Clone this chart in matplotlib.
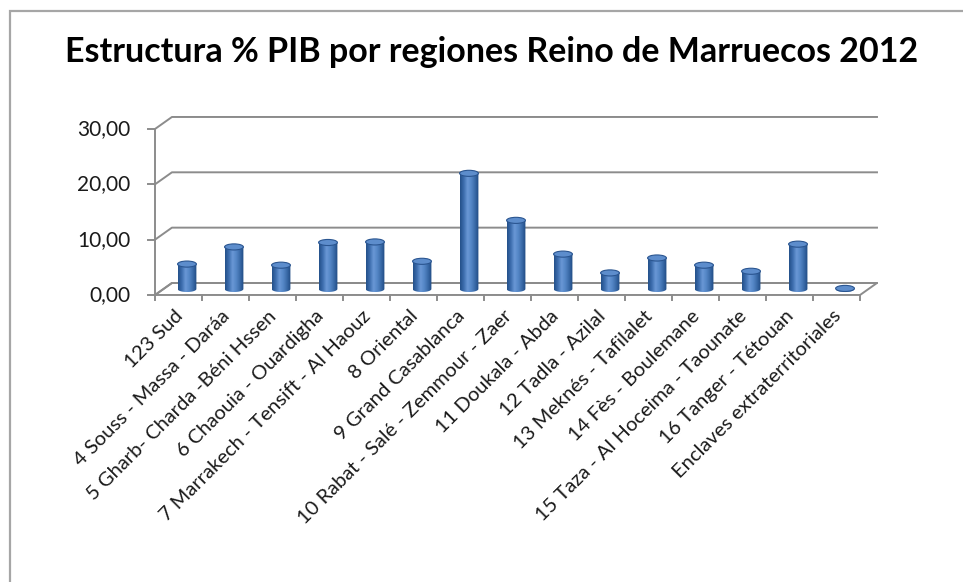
import numpy as np
import matplotlib
matplotlib.use("Agg")
import matplotlib.pyplot as plt
from matplotlib.patches import Ellipse, PathPatch, Rectangle, Polygon
from matplotlib.path import Path
from matplotlib.colors import LinearSegmentedColormap

plt.rcParams['font.family'] = ['Lato', 'DejaVu Sans']

# --- DATA ---
regions = [
    "123 Sud",
    "4 Souss - Massa - Daráa",
    "5 Gharb- Charda -Béni Hssen",
    "6 Chaouia - Ouardigha",
    "7 Marrakech - Tensift - Al Haouz",
    "8 Oriental",
    "9 Grand Casablanca",
    "10 Rabat - Salé - Zemmour - Zaer",
    "11 Doukala - Abda",
    "12 Tadla - Azilal",
    "13 Meknés - Tafilalet",
    "14 Fès - Boulemane",
    "15 Taza - Al Hoceima - Taounate",
    "16 Tanger - Tétouan",
    "Enclaves extraterritoriales",
]
pib_pct = [4.5, 7.6, 4.3, 8.4, 8.5, 5.0, 20.9, 12.4, 6.3, 2.9, 5.6, 4.3, 3.2, 8.1, 0.1]
y_ticks = [0, 10, 20, 30]
y_labels = ["0,00", "10,00", "20,00", "30,00"]
title = "Estructura % PIB por regiones Reino de Marruecos 2012"

# --- 3D-look geometry (data units) ---
n = len(regions)
dx, dy = 0.36, 2.17      # depth offset of back wall
bar_w = 0.40
ell_h = 1.1
grid_col = '#8c8c8c'

fig = plt.figure(figsize=(9.63, 5.82), dpi=100)
ax = fig.add_axes([0, 0, 1, 1])
ax.set_xlim(-3.298, 17.19)
ax.set_ylim(-51.87, 53.31)
ax.axis('off')

# outer chart frame
ax.add_patch(Rectangle((0.0104, -0.05), 1.2, 1.031, transform=ax.transAxes,
                       fill=False, edgecolor='#a6a6a6', linewidth=1.6, clip_on=False))

# floor
ax.add_patch(Polygon([(0, 0), (n, 0), (n + dx, dy), (dx, dy)], closed=True,
                     facecolor='white', edgecolor=grid_col, linewidth=1.4, zorder=1))

# gridlines on side wall + back wall
for t in y_ticks:
    ax.plot([0, dx, n + dx], [t, t + dy, t + dy], color=grid_col, lw=1.4, zorder=1)
    ax.plot([-0.15, 0], [t, t], color=grid_col, lw=1.4, zorder=1)

# value axis
ax.plot([0, 0], [0, max(y_ticks)], color=grid_col, lw=1.4, zorder=2)
for t, lab in zip(y_ticks, y_labels):
    ax.text(-0.53, t, lab, ha='right', va='center', fontsize=15, color='#1a1a1a')

# category ticks
for k in range(n + 1):
    ax.plot([k, k], [0, -0.9], color=grid_col, lw=1.4, zorder=2)

# cylinders
cyl = LinearSegmentedColormap.from_list(
    'cyl', ['#24508a', '#3d6eae', '#6a98d6', '#5486c6', '#3a6aa8', '#1f4a82'])
grad = np.linspace(0, 1, 64).reshape(1, -1)

for i, v in enumerate(pib_pct):
    xc = i + 0.5 + dx / 2
    yb = dy / 2
    yt = v + dy / 2
    x0, x1 = xc - bar_w / 2, xc + bar_w / 2
    th = np.linspace(np.pi, 2 * np.pi, 40)
    arc = np.column_stack([xc + bar_w / 2 * np.cos(th), yb + ell_h / 2 * np.sin(th)])
    verts = np.vstack([[x0, yt], arc, [x1, yt], [x0, yt]])
    body = PathPatch(Path(verts, closed=True), facecolor='none', edgecolor='none')
    ax.add_patch(body)
    im = ax.imshow(grad, cmap=cyl, extent=[x0, x1, yb - ell_h / 2, yt],
                   aspect='auto', zorder=3, interpolation='bilinear')
    im.set_clip_path(body)
    ax.add_patch(Ellipse((xc, yt), bar_w, ell_h, facecolor='#5d8dcc',
                         edgecolor='#2a5590', linewidth=0.8, zorder=4))

# category labels
for i, lab in enumerate(regions):
    ax.text(i + 0.4, -2.2, lab, rotation=45, rotation_mode='anchor',
            ha='right', va='top', fontsize=14.5, color='#1a1a1a')

ax.text(0.511, 0.8935, title, transform=ax.transAxes, ha='center', va='baseline',
        fontsize=24.5, fontweight='bold', color='black')

ax.set_xlim(-3.298, 17.19)
ax.set_ylim(-51.87, 53.31)
fig.savefig('out.png', dpi=100)
